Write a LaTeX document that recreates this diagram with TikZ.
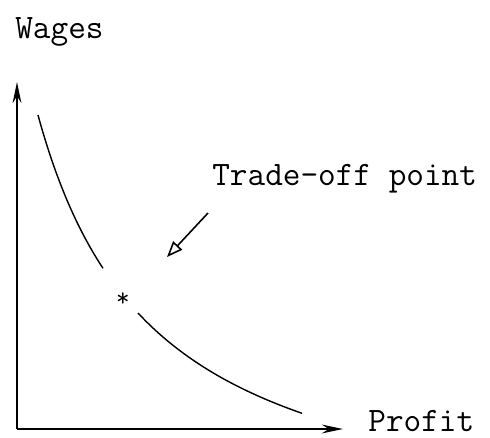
\documentclass[tikz,border=0pt]{standalone}
\usetikzlibrary{arrows.meta}

\begin{document}
\begin{tikzpicture}[x=0.02cm,y=-0.02cm]

			\tikzset{
				axis/.style={
					line width=1.1pt,
					-{Stealth[length=12pt,width=5pt]}
				},
				curve/.style={
					line width=0.8pt
				},
				pointer/.style={
					line width=0.9pt,
					-{Triangle[open,length=9pt,width=7pt]}
				},
				label/.style={
					inner sep=0pt,
					anchor=base west,
					font=\ttfamily\fontsize{19.5}{22}\selectfont
				},
				star/.style={
					inner sep=0pt,
					font=\ttfamily\fontsize{15}{17}\selectfont
				}
			}

			\useasboundingbox (0,0) rectangle (490,437);

			% AXES
			\coordinate (origin) at (17,429);
			\coordinate (ytip) at (17,82);
			\coordinate (xtip) at (343,429);
			\draw[axis] (origin) -- (ytip);
			\draw[axis] (origin) -- (xtip);

			% LABELS
			\node[label] (wages) at (15,38) {Wages};
			\node[label] (profit) at (368,431) {Profit};
			\node[label] (tradelabel) at (212,185) {Trade-off point};

			% TRADE-OFF CURVE
			\draw[curve] plot[domain=38:103,samples=40] (\x,{546.6-509.26/((\x+80)/100)});
			\draw[curve] plot[domain=138:302,samples=60] (\x,{546.6-509.26/((\x+80)/100)});

			% STAR
			\node[star] (tradeoff) at (123,300) {*};

			% POINTER
			\coordinate (ptail) at (208,213);
			\coordinate (phead) at (167,257);
			\draw[pointer] (ptail) -- (phead);

		\end{tikzpicture}
\end{document}
